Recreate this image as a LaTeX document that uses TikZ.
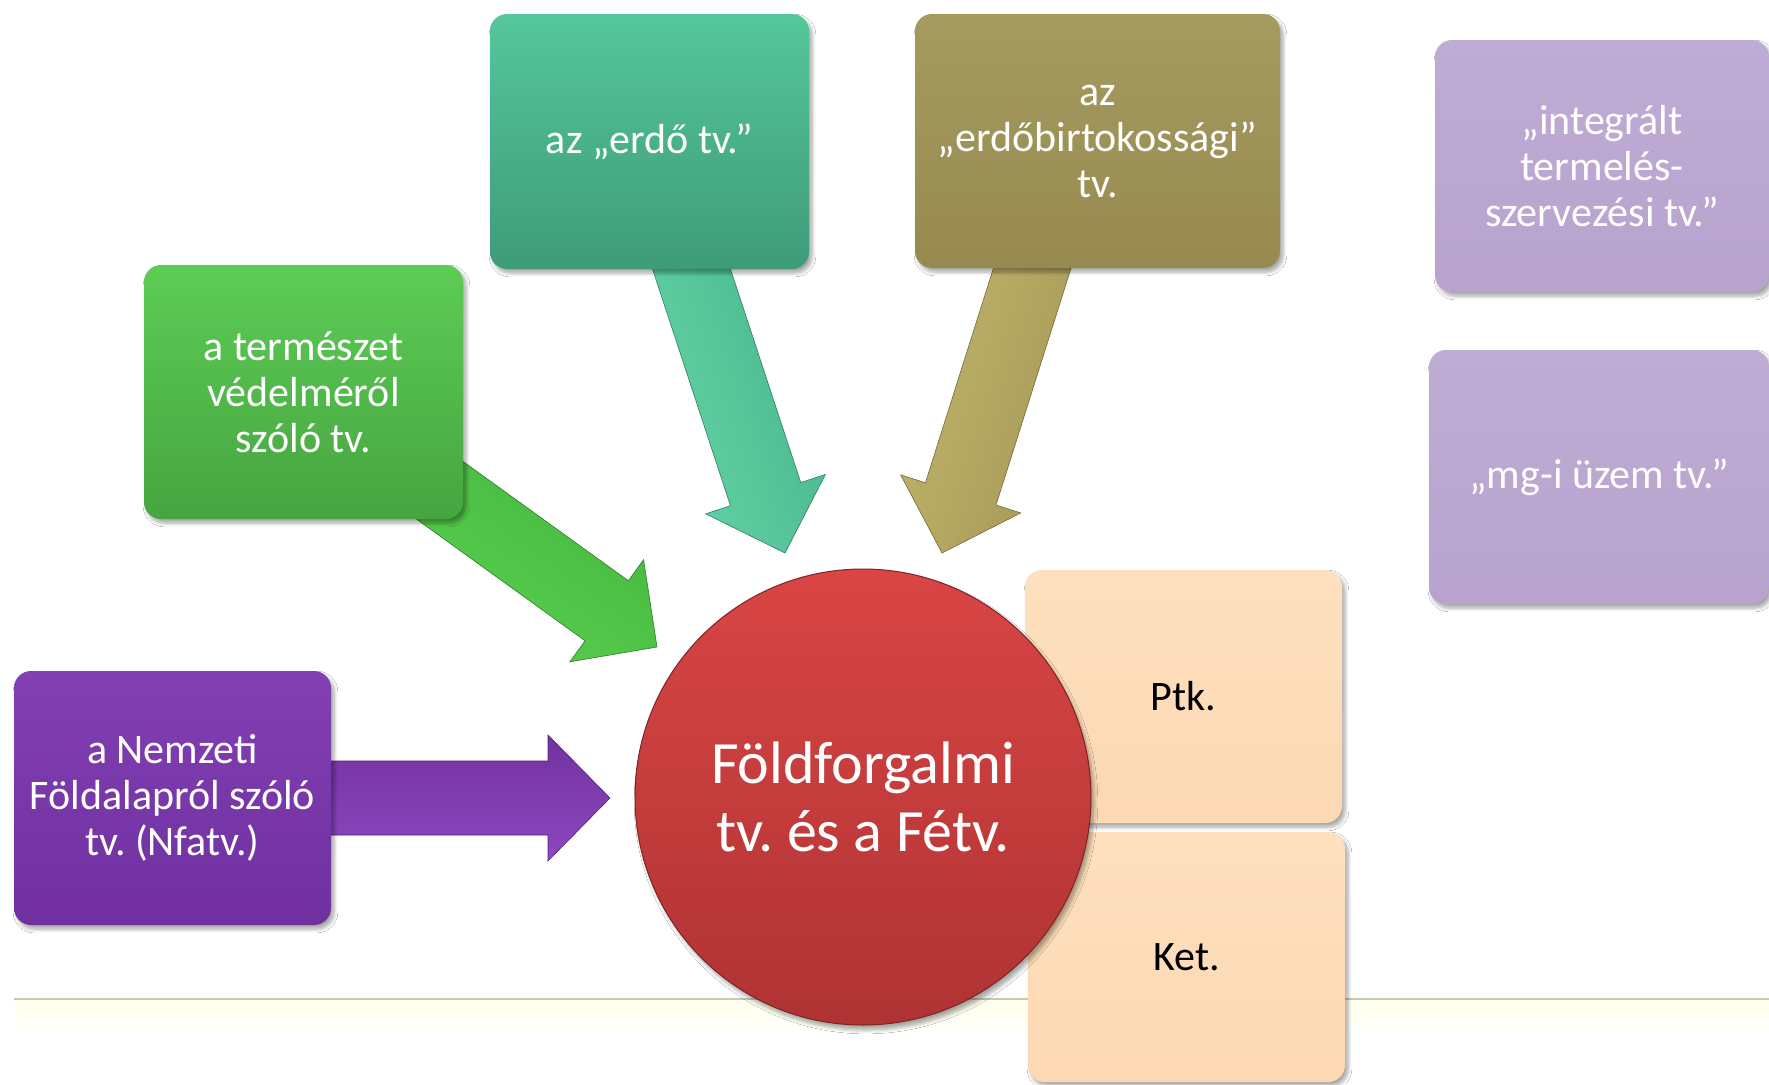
\documentclass[tikz,border=0pt]{standalone}
\usepackage{fontspec}
\setmainfont{Carlito}
\frenchspacing
\usetikzlibrary{calc,shadows.blur}
\pgfdeclarelayer{background}
\pgfsetlayers{background,main}
\definecolor{purA}{HTML}{8240B2}
\definecolor{purB}{HTML}{7030A0}
\definecolor{grnA}{HTML}{5DCC56}
\definecolor{grnB}{HTML}{46A540}
\definecolor{tealA}{HTML}{55C79B}
\definecolor{tealB}{HTML}{3E9B79}
\definecolor{oliA}{HTML}{A49B5F}
\definecolor{oliB}{HTML}{978A51}
\definecolor{lavA}{HTML}{BFACD5}
\definecolor{lavB}{HTML}{B7A3CD}
\definecolor{pchA}{HTML}{FEE0BF}
\definecolor{pchB}{HTML}{FCD8B3}
\definecolor{redA}{HTML}{DA4545}
\definecolor{redB}{HTML}{AF3333}
\definecolor{rulecol}{RGB}{200,200,185}
\definecolor{aPurL}{HTML}{8C48BE}
\definecolor{aPurD}{HTML}{7232A2}
\definecolor{aGrnL}{HTML}{5CD653}
\definecolor{aGrnD}{HTML}{42B03C}
\definecolor{aTealL}{HTML}{66DAAB}
\definecolor{aTealD}{HTML}{46B088}
\definecolor{aOliL}{HTML}{C4B76C}
\definecolor{aOliD}{HTML}{A39656}
\tikzset{
  box/.style={rectangle, rounded corners=8.5pt, inner sep=0pt, align=center,
    text=white, font=\fontsize{21}{23}\selectfont,
    blur shadow={shadow xshift=1.5pt, shadow yshift=-2pt, shadow opacity=35, shadow blur steps=6}},
  pchbox/.style={box, text=black, top color=pchA, bottom color=pchB},
  arrP/.style={top color=aPurL, bottom color=aPurD, shading angle=180, draw=aPurD!70!black, line width=0.3pt},
  arrG/.style={top color=aGrnL, bottom color=aGrnD, shading angle=144, draw=aGrnD!70!black, line width=0.3pt},
  arrT/.style={top color=aTealL, bottom color=aTealD, shading angle=108, draw=aTealD!70!black, line width=0.3pt},
  arrO/.style={top color=aOliL, bottom color=aOliD, shading angle=72, draw=aOliD!70!black, line width=0.3pt},
}
% block arrow: #1 style, #2 start, #3 tip
\newcommand\blockarrow[3]{%
  \coordinate (ahb) at ($(#3)!31pt!(#2)$);
  \path[#1] ($(#2)!18.5pt!90:(#3)$) -- ($(ahb)!18.5pt!90:(#3)$) -- ($(ahb)!31.5pt!90:(#3)$)
     -- (#3) -- ($(ahb)!31.5pt!-90:(#3)$) -- ($(ahb)!18.5pt!-90:(#3)$)
     -- ($(#2)!18.5pt!-90:(#3)$) -- cycle;
}
\begin{document}
\begin{tikzpicture}[x=0.5pt,y=-0.5pt]
\useasboundingbox (0,0) rectangle (1769,1084);

% source boxes
\node[box, minimum width=158.5pt, minimum height=127pt, top color=purA, bottom color=purB] (nem) at (172.5,798) {a Nemzeti\\Földalapról szóló\\tv. (Nfatv.)};
\node[box, minimum width=159.5pt, minimum height=127pt, top color=grnA, bottom color=grnB] (ter) at (303.5,392) {a természet\\védelméről\\szóló tv.};
\node[box, minimum width=159.5pt, minimum height=127.5pt, top color=tealA, bottom color=tealB] (erdo) at (649.5,141.5) {az „erdő tv.”};
\node[box, minimum width=182.5pt, minimum height=127pt, top color=oliA, bottom color=oliB] (eb) at (1097.5,141) {az\\„erdőbirtokossági”\\tv.};
\node[box, minimum width=167pt, minimum height=126pt, top color=lavA, bottom color=lavB] (itsz) at (1602,166) {„integrált\\termelés-\\szervezési tv.”};
\node[box, minimum width=170pt, minimum height=127pt, top color=lavA, bottom color=lavB] (mg) at (1599,477) {„mg-i üzem tv.”};

% right side boxes
\node[pchbox, minimum width=158.5pt, minimum height=126.5pt] (ptk) at (1183.5,696.5) {Ptk.};
\node[pchbox, minimum width=158.5pt, minimum height=125pt] (ket) at (1186.5,957) {Ket.};

% central circle
\node[circle, minimum size=228pt, inner sep=0pt, align=center, text=white,
  font=\fontsize{30}{34}\selectfont, top color=redA, bottom color=redB,
  draw=redB!70!black, line width=0.5pt,
  blur shadow={shadow xshift=1.5pt, shadow yshift=-2.5pt, shadow opacity=35, shadow blur steps=6}]
  (fold) at (863,797) {Földforgalmi\\tv. és a Fétv.};

% arrow tips and starts
\coordinate (tipP) at (610,798);
\coordinate (tipG) at (657,647);
\coordinate (tipT) at (785,553);
\coordinate (tipO) at (942,553);
\coordinate (stO) at ($(eb.center)+(-25,0)$);

\begin{pgfonlayer}{background}
  \fill[white] (0,0) rectangle (1769,1084);
  \fill[top color=yellow!7!white, bottom color=white, draw=none] (14,1000) rectangle (1769,1035);
  \draw[rulecol, line width=1pt] (14,999) -- (1769,999);
  \blockarrow{arrP}{nem.center}{tipP}
  \blockarrow{arrG}{ter.center}{tipG}
  \blockarrow{arrT}{erdo.center}{tipT}
  \blockarrow{arrO}{stO}{tipO}
\end{pgfonlayer}
\end{tikzpicture}
\end{document}
